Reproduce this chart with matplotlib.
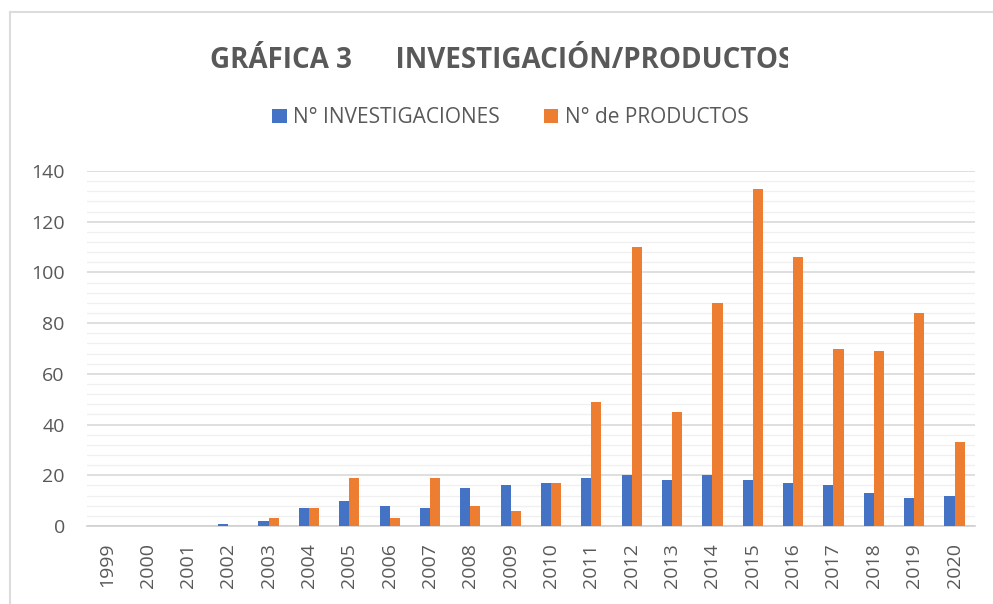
import matplotlib.pyplot as plt
import numpy as np
from matplotlib.lines import Line2D
from matplotlib.transforms import Bbox

#
# Data
#

years = [str(y) for y in range(1999, 2021)]
investigaciones = [0, 0, 0, 1, 2, 7, 10, 8, 7, 15, 16, 17, 19, 20, 18, 20, 18, 17, 16, 13, 11, 12]
productos = [0, 0, 0, 0, 3, 7, 19, 3, 19, 8, 6, 17, 49, 110, 45, 88, 133, 106, 70, 69, 84, 33]

blue = "#4472C4"
orange = "#ED7D31"
text_gray = "#595959"

plt.rcParams['font.family'] = ['Open Sans', 'DejaVu Sans']

fig = plt.figure(figsize=(9.93, 6.04), dpi=100, facecolor="white")
ax = fig.add_axes([0.0876, 0.129, 0.894, 0.588])

x = np.arange(len(years))
w = 0.25
ax.bar(x - w / 2, investigaciones, w, color=blue, label="N° INVESTIGACIONES", zorder=3)
ax.bar(x + w / 2, productos, w, color=orange, label="N° de PRODUCTOS", zorder=3)

ax.set_xlim(-0.5, len(years) - 0.5)
ax.set_ylim(0, 140)
ax.set_yticks(range(0, 141, 20))
ax.set_yticks(range(0, 141, 4), minor=True)
ax.grid(axis="y", which="major", color="#d9d9d9", linewidth=1.2, zorder=0)
ax.grid(axis="y", which="minor", color="#f0f0f0", linewidth=1.0, zorder=0)

ax.set_xticks(x)
ax.set_xticklabels(years, rotation=90, fontsize=14, color=text_gray)
ax.tick_params(axis="y", labelsize=14, labelcolor=text_gray, length=0, pad=16)
ax.tick_params(axis="y", which="minor", length=0)
ax.tick_params(axis="x", length=0, pad=12)

# last year label is cut off in the original screenshot
last = ax.get_xticklabels()[-1]
last.set_clip_on(True)
last.set_clip_box(Bbox.from_extents(0, 0, 968, 604))

for s in ["top", "right", "left"]:
    ax.spines[s].set_visible(False)
ax.spines["bottom"].set_color("#d0d0d0")
ax.spines["bottom"].set_linewidth(1.2)

# Title (clipped on the right like the original)
title = fig.text(210 / 993, 0.9, "GRÁFICA 3      INVESTIGACIÓN/PRODUCTOS", ha="left", va="center",
                 fontsize=20, fontweight="bold", color=text_gray)
title.set_clip_on(True)
title.set_clip_box(Bbox.from_extents(0, 0, 788, 604))

# Legend
fig.legend(loc="center", bbox_to_anchor=(0.514, 0.805), ncol=2, frameon=False, fontsize=15,
           labelcolor=text_gray, handlelength=0.7, handleheight=0.7, handletextpad=0.3,
           columnspacing=2.1)

# Chart border (top and left edges)
fig.add_artist(Line2D([10 / 993, 10 / 993], [0, 1 - 12 / 604], color="#dcdcdc", linewidth=1.5))
fig.add_artist(Line2D([10 / 993, 1], [1 - 12 / 604, 1 - 12 / 604], color="#dcdcdc", linewidth=1.5))

plt.savefig("out.png", dpi=100)
